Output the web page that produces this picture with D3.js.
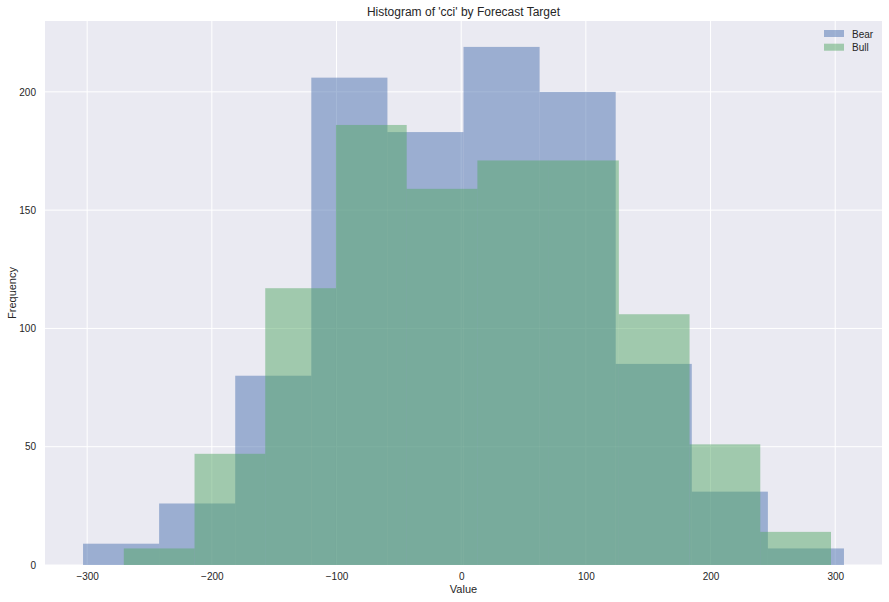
<!DOCTYPE html>
<html>
<head>
<meta charset="utf-8">
<script src="https://cdn.jsdelivr.net/npm/d3@7"></script>
<style>
  body { margin: 0; background: #fff; }
  text { font-family: "Liberation Sans", Arial, sans-serif; fill: #262626; }
</style>
</head>
<body>
<svg id="chart" width="889" height="602"></svg>
<script>
// Bin edges and counts
const bearStart = -303.3, bearWidth = 61.03;
const bearCounts = [9, 26, 80, 206, 183, 219, 200, 85, 31, 7];
const bullStart = -270.6, bullWidth = 56.72;
const bullCounts = [7, 47, 117, 186, 159, 171, 171, 106, 51, 14];
const xTicks = [-300, -200, -100, 0, 100, 200, 300];
const yTicks = [0, 50, 100, 150, 200];
const seriesNames = ["Bear", "Bull"];
const seriesColors = ["#4C72B0", "#55A868"];

function bins(start, width, counts) {
  return counts.map((c, i) => ({ x0: start + i * width, x1: start + (i + 1) * width, n: c }));
}
const bearBins = bins(bearStart, bearWidth, bearCounts);
const bullBins = bins(bullStart, bullWidth, bullCounts);

const svg = d3.select("#chart");
const m = { left: 45, right: 7, top: 21, bottom: 37 };
const W = 889, H = 602;
const iw = W - m.left - m.right, ih = H - m.top - m.bottom;

const lo = Math.min(bearBins[0].x0, bullBins[0].x0);
const hi = Math.max(bearBins[9].x1, bullBins[9].x1);
const pad = (hi - lo) * 0.05;
const x = d3.scaleLinear().domain([lo - pad, hi + pad]).range([m.left, m.left + iw]);
const ymax = d3.max(bearCounts.concat(bullCounts)) * 1.05;
const y = d3.scaleLinear().domain([0, ymax]).range([m.top + ih, m.top]);

svg.append("rect").attr("x", m.left).attr("y", m.top).attr("width", iw).attr("height", ih).attr("fill", "#EAEAF2");

// grid
svg.append("g").selectAll("line").data(xTicks).join("line")
  .attr("x1", d => x(d)).attr("x2", d => x(d)).attr("y1", m.top).attr("y2", m.top + ih)
  .attr("stroke", "#fff").attr("stroke-width", 1);
svg.append("g").selectAll("line").data(yTicks).join("line")
  .attr("x1", m.left).attr("x2", m.left + iw).attr("y1", d => y(d)).attr("y2", d => y(d))
  .attr("stroke", "#fff").attr("stroke-width", 1);

// bars
[[bearBins, seriesColors[0]], [bullBins, seriesColors[1]]].forEach(([data, color]) => {
  svg.append("g").selectAll("rect").data(data).join("rect")
    .attr("x", d => x(d.x0)).attr("width", d => x(d.x1) - x(d.x0))
    .attr("y", d => y(d.n)).attr("height", d => y(0) - y(d.n))
    .attr("fill", color).attr("fill-opacity", 0.5);
});

// axes
const xAxis = d3.axisBottom(x).tickValues(xTicks).tickSize(0).tickPadding(8)
  .tickFormat(d => d < 0 ? "\u2212" + Math.abs(d) : d);
const gx = svg.append("g").attr("transform", `translate(0,${m.top + ih})`).call(xAxis);
gx.select(".domain").remove();
gx.selectAll("text").attr("font-size", 10).style("fill", "#262626");

const yAxis = d3.axisLeft(y).tickValues(yTicks).tickSize(0).tickPadding(9);
const gy = svg.append("g").attr("transform", `translate(${m.left},0)`).call(yAxis);
gy.select(".domain").remove();
gy.selectAll("text").attr("font-size", 10).style("fill", "#262626");

// labels
svg.append("text").attr("x", m.left + iw / 2).attr("y", 16).attr("text-anchor", "middle")
  .attr("font-size", 12).text("Histogram of 'cci' by Forecast Target");
svg.append("text").attr("x", m.left + iw / 2).attr("y", 593).attr("text-anchor", "middle")
  .attr("font-size", 11).text("Value");
svg.append("text").attr("transform", `translate(16,${m.top + ih / 2}) rotate(-90)`)
  .attr("text-anchor", "middle").attr("font-size", 11).text("Frequency");

// legend
const lg = svg.append("g").attr("transform", "translate(824,30)");
seriesNames.forEach((name, i) => {
  lg.append("rect").attr("x", 0).attr("y", i * 13.7).attr("width", 20).attr("height", 7)
    .attr("fill", seriesColors[i]).attr("fill-opacity", 0.5);
  lg.append("text").attr("x", 28).attr("y", i * 13.7 + 7.5).attr("font-size", 10).text(name);
});
</script>
</body>
</html>
